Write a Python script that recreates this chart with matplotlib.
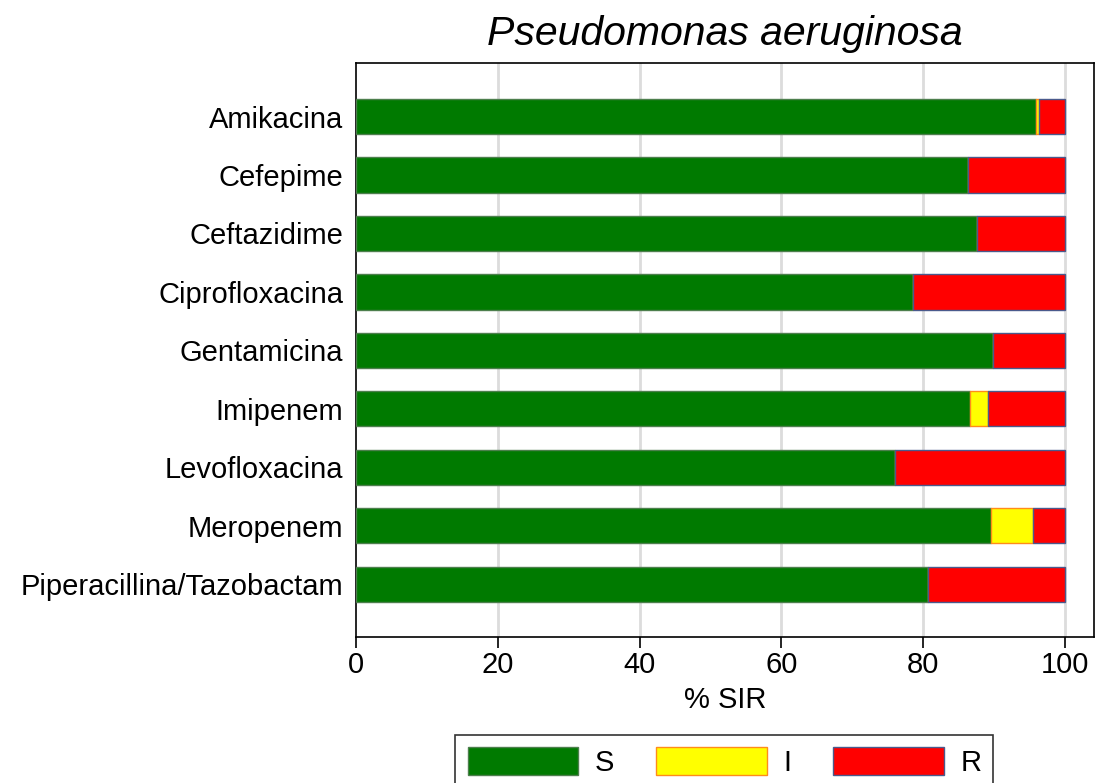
import matplotlib.pyplot as plt
import numpy as np
from matplotlib.patches import Patch

plt.rcParams['font.family'] = ['Liberation Sans', 'DejaVu Sans']

antibiotics = ['Amikacina', 'Cefepime', 'Ceftazidime', 'Ciprofloxacina', 'Gentamicina',
               'Imipenem', 'Levofloxacina', 'Meropenem', 'Piperacillina/Tazobactam']
pct_s = [95.9, 86.3, 87.6, 78.6, 89.8, 86.6, 76.1, 89.6, 80.7]
pct_i = [0.5, 0.0, 0.0, 0.0, 0.0, 2.5, 0.0, 5.9, 0.0]
pct_r = [100 - s - i for s, i in zip(pct_s, pct_i)]

green, yellow, red = '#007a00', '#ffff00', '#ff0000'
green_e, yellow_e, red_e = '#4d7f4d', '#ff8c1a', '#4a5a8c'

fig = plt.figure(figsize=(10.95, 7.83), dpi=100)
ax = fig.add_axes([0.3251, 0.1865, 0.6739, 0.733])

y = np.arange(len(antibiotics))
s = np.array(pct_s)
i = np.array(pct_i)
r = np.array(pct_r)
h = 0.6
ax.barh(y, s, height=h, color=green, edgecolor=green_e, linewidth=1, zorder=3)
ax.barh(y, i, left=s, height=h, color=yellow, edgecolor=yellow_e, linewidth=1, zorder=3)
ax.barh(y, r, left=s + i, height=h, color=red, edgecolor=red_e, linewidth=1, zorder=3)

ax.set_ylim(8.9, -0.915)
ax.set_xlim(0, 104.1)
ax.set_yticks(y)
ax.set_yticklabels(antibiotics, fontsize=21)
ax.set_xticks([0, 20, 40, 60, 80, 100])
ax.tick_params(axis='x', labelsize=21, length=8, width=1.2, pad=2)
ax.tick_params(axis='y', length=0, pad=9)
for xv in [20, 40, 60, 80, 100]:
    ax.axvline(xv, color='#dcdcdc', linewidth=2, zorder=1)
for sp in ax.spines.values():
    sp.set_linewidth(1.2)
    sp.set_color('black')

ax.set_xlabel('% SIR', fontsize=21, labelpad=5)
ax.set_title('Pseudomonas aeruginosa', fontsize=29.5, style='italic', pad=13)

handles = [Patch(facecolor=green, edgecolor=green_e, label='S'),
           Patch(facecolor=yellow, edgecolor=yellow_e, label='I'),
           Patch(facecolor=red, edgecolor=red_e, label='R')]
leg = fig.legend(handles=handles, loc='upper center', bbox_to_anchor=(0.6616, 0.0613),
                 ncol=3, fontsize=21, frameon=True, fancybox=False, edgecolor='black',
                 handlelength=3.8, handleheight=1.1, columnspacing=1.45, handletextpad=0.55,
                 borderaxespad=0, borderpad=0.42)
leg.get_frame().set_linewidth(1.2)

plt.savefig('out.png', dpi=100)
